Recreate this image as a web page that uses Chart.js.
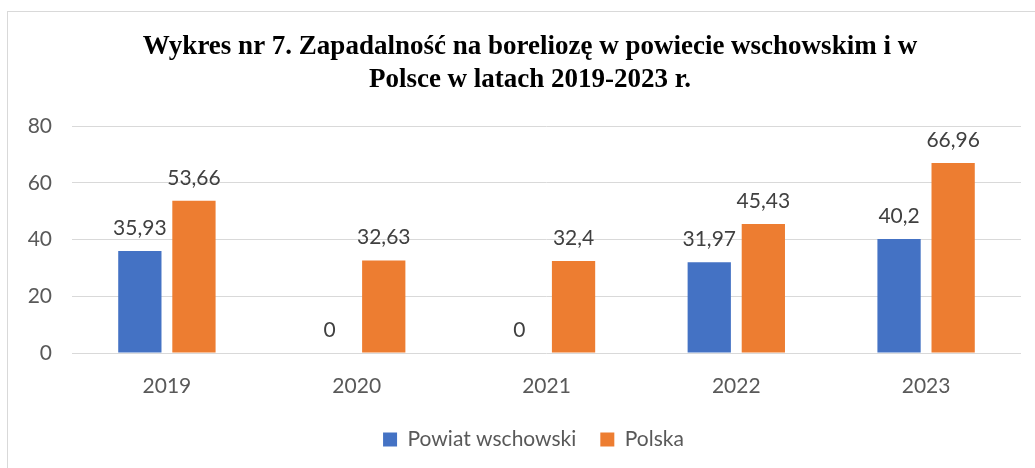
<!DOCTYPE html>
<html>
<head>
<meta charset="utf-8">
<script src="https://cdn.jsdelivr.net/npm/chart.js@4.4.1/dist/chart.umd.min.js"></script>
<style>
html,body{margin:0;padding:0;background:#fff;}
#wrap{position:relative;width:1035px;height:468px;}
</style>
</head>
<body>
<div id="wrap"><canvas id="c" width="1035" height="468"></canvas></div>
<script>
const categories = ['2019', '2020', '2021', '2022', '2023'];
const powiatValues = [35.93, 0, 0, 31.97, 40.2];
const polskaValues = [53.66, 32.63, 32.4, 45.43, 66.96];
const seriesNames = ['Powiat wschowski', 'Polska'];
const titleLines = ['Wykres nr 7. Zapadalność na boreliozę w powiecie wschowskim i w', 'Polsce w latach 2019-2023 r.'];

const FONT = 'Lato, "Noto Sans", sans-serif';

const borderPlugin = {
  id: 'outerBorder',
  beforeDraw(chart) {
    const ctx = chart.ctx;
    ctx.save();
    ctx.fillStyle = '#fff';
    ctx.fillRect(0, 0, chart.width, chart.height);
    ctx.strokeStyle = '#D9D9D9';
    ctx.lineWidth = 1;
    ctx.strokeRect(7.5, 11.5, 1100, 600);
    ctx.restore();
  }
};

const legendShift = {
  id: 'legendShift',
  afterLayout(chart) {
    const l = chart.legend;
    if (l) { l.left += 23; l.right += 23; }
  }
};

const titlePlugin = {
  id: 'customTitle',
  afterDraw(chart) {
    const ctx = chart.ctx;
    ctx.save();
    ctx.font = 'bold 27px "Liberation Serif", "Times New Roman", serif';
    ctx.fillStyle = '#000';
    ctx.textAlign = 'center';
    ctx.textBaseline = 'middle';
    titleLines.forEach((t, i) => ctx.fillText(t, 530, 47 + i * 33));
    ctx.restore();
  }
};

const valueLabels = {
  id: 'valueLabels',
  afterDatasetsDraw(chart) {
    const ctx = chart.ctx;
    ctx.save();
    ctx.font = '21px ' + FONT;
    ctx.fillStyle = '#404040';
    ctx.textAlign = 'center';
    ctx.textBaseline = 'alphabetic';
    chart.data.datasets.forEach((ds, i) => {
      const meta = chart.getDatasetMeta(i);
      meta.data.forEach((bar, j) => {
        const txt = String(ds.data[j]).replace('.', ',');
        ctx.fillText(txt, bar.x, bar.y - 16);
      });
    });
    ctx.restore();
  }
};

new Chart(document.getElementById('c'), {
  type: 'bar',
  data: {
    labels: categories,
    datasets: [
      { label: seriesNames[0], data: powiatValues, backgroundColor: '#4472C4' },
      { label: seriesNames[1], data: polskaValues, backgroundColor: '#ED7D31' }
    ]
  },
  options: {
    responsive: false,
    animation: false,
    devicePixelRatio: 1,
    categoryPercentage: 0.57,
    barPercentage: 0.8,
    layout: { padding: { left: 0, right: 14, top: 126, bottom: 8 } },
    plugins: {
      title: { display: false },
      legend: {
        position: 'bottom',
        labels: {
          boxWidth: 14, boxHeight: 14, padding: 24,
          color: '#595959',
          font: { family: FONT, size: 21 }
        }
      },
      tooltip: { enabled: false }
    },
    scales: {
      x: {
        grid: { display: false },
        border: { display: false },
        ticks: { color: '#595959', font: { family: FONT, size: 21 }, padding: 13 },
        afterFit(s) { s.height = 52; }
      },
      y: {
        min: 0, max: 80,
        ticks: { stepSize: 20, color: '#595959', font: { family: FONT, size: 21 }, padding: 20 },
        grid: { color: '#D9D9D9', drawTicks: false, lineWidth: 1 },
        border: { display: false },
        afterFit(s) { s.width = 72; }
      }
    }
  },
  plugins: [borderPlugin, legendShift, titlePlugin, valueLabels]
});
</script>
</body>
</html>
